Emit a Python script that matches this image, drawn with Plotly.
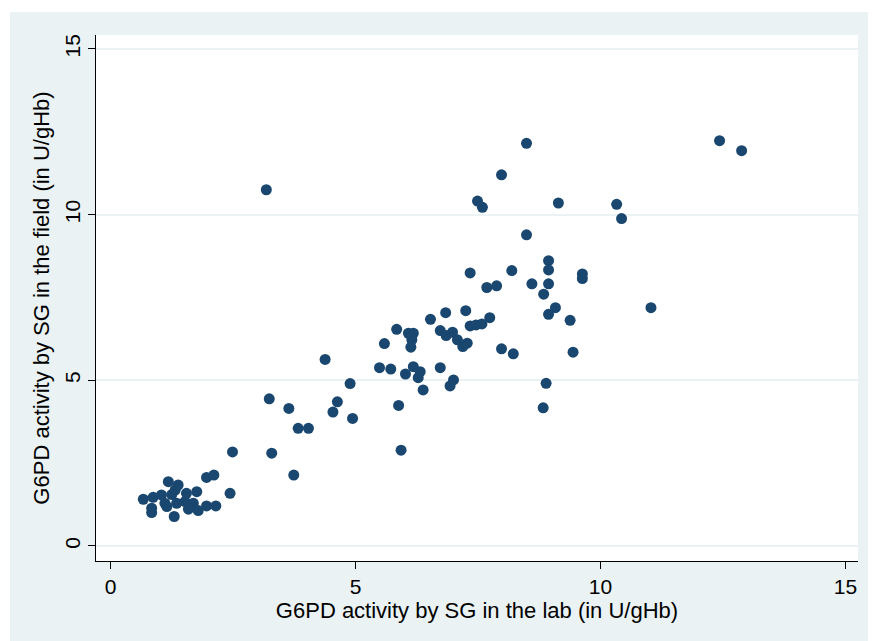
import plotly.graph_objects as go

lab = [0.67, 0.87, 1.04, 0.84, 0.84, 1.11, 1.15, 1.30, 1.18, 1.38, 1.32, 1.25, 1.35, 1.52, 1.55,
       1.69, 1.76, 1.59, 1.79, 1.96, 2.15, 1.96, 2.11, 2.44, 2.49, 3.29,
       3.24, 3.64, 3.83, 4.04, 3.74, 4.38, 4.89, 4.63, 4.54, 4.94, 5.49, 5.72, 5.59, 5.84,
       6.08, 6.18, 6.15, 6.13, 6.53, 6.84, 7.25, 6.73, 6.85, 6.98, 7.08, 7.19, 7.28, 7.34,
       7.46, 7.58, 7.74, 6.02, 6.18, 6.32, 6.28, 6.73, 7.00, 6.93, 6.38, 5.88, 5.93, 7.98, 8.22,
       3.18, 7.34, 8.19, 7.68, 7.88, 8.60, 8.94, 8.94, 8.94, 8.84, 9.08, 8.94, 9.38, 9.44,
       8.89, 8.83, 8.49, 7.98, 7.49, 7.59, 9.14, 10.33, 10.43, 8.49, 9.63, 9.63, 11.03,
       12.43, 12.88]
field = [1.41, 1.47, 1.54, 1.14, 1.01, 1.29, 1.19, 0.89, 1.94, 1.84, 1.69, 1.55, 1.29, 1.34, 1.59,
         1.29, 1.64, 1.11, 1.07, 1.21, 1.21, 2.07, 2.14, 1.59, 2.84, 2.80,
         4.44, 4.15, 3.55, 3.55, 2.14, 5.63, 4.90, 4.35, 4.04, 3.85, 5.38, 5.34, 6.11, 6.54,
         6.42, 6.42, 6.22, 6.00, 6.84, 7.04, 7.10, 6.50, 6.35, 6.45, 6.22, 6.02, 6.12, 6.64,
         6.67, 6.70, 6.89, 5.19, 5.41, 5.26, 5.08, 5.38, 5.01, 4.83, 4.71, 4.24, 2.89, 5.95, 5.80,
         10.75, 8.24, 8.31, 7.80, 7.85, 7.91, 8.61, 8.33, 7.91, 7.60, 7.19, 6.99, 6.81, 5.85,
         4.91, 4.17, 12.15, 11.20, 10.41, 10.22, 10.35, 10.31, 9.88, 9.39, 8.21, 8.07, 7.19,
         12.23, 11.93]

tick_vals = [0, 5, 10, 15]
tick_text = ["0", "5", "10", "15"]

BG = "#eaf2f3"
FONT = "Liberation Sans, Arial, sans-serif"

fig = go.Figure()
fig.add_trace(go.Scatter(
    x=lab, y=field, mode="markers",
    marker=dict(color="#1a476f", size=11, line=dict(width=0)),
    showlegend=False,
))

fig.update_layout(
    width=876, height=641,
    margin=dict(l=88, r=26, t=27, b=88),
    paper_bgcolor=BG,
    plot_bgcolor="white",
    font=dict(family=FONT, size=21, color="black"),
    xaxis=dict(
        range=[-0.296, 15.255],
        tickvals=tick_vals, ticktext=tick_text,
        showgrid=False, zeroline=False,
        showline=True, linecolor="black", linewidth=1.2,
        ticks="outside", ticklen=7, tickcolor="black",
        tickfont=dict(size=21),
        title=dict(text="G6PD activity by SG in the lab (in U/gHb)", font=dict(size=22), standoff=2),
    ),
    yaxis=dict(
        range=[-0.453, 15.42],
        tickvals=tick_vals, ticktext=tick_text,
        showgrid=True, gridcolor=BG, gridwidth=1.5,
        zeroline=False,
        showline=True, linecolor="black", linewidth=1.2,
        ticks="outside", ticklen=7, tickcolor="black",
        tickangle=-90,
        tickfont=dict(size=21),
        title=dict(text="G6PD activity by SG in the field (in U/gHb)", font=dict(size=22), standoff=4),
    ),
    shapes=[
        dict(type="rect", xref="paper", yref="paper", x0=-0.2, x1=1.1, y0=1.0437, y1=1.1,
             fillcolor="white", line=dict(width=0), layer="below"),
        dict(type="rect", xref="paper", yref="paper", x0=-0.2, x1=-0.1129, y0=-0.2, y1=1.1,
             fillcolor="white", line=dict(width=0), layer="below"),
    ],
)

fig.write_html("out.html")
